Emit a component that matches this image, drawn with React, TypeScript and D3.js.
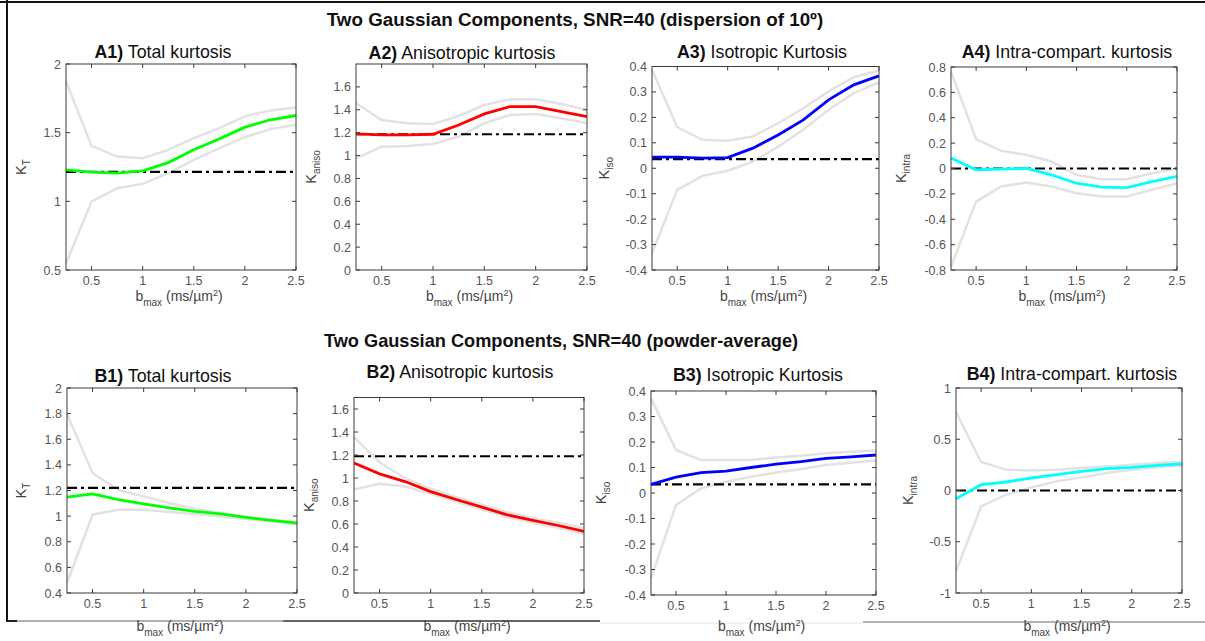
import React from "react";
import * as d3 from "d3";

// ---------- data ----------
const bVals = [0.25, 0.5, 0.75, 1.0, 1.25, 1.5, 1.75, 2.0, 2.25, 2.5];
const xTicks = [0.5, 1, 1.5, 2, 2.5];

// A1 Total kurtosis (dispersion)
const a1Mean = [1.229, 1.212, 1.205, 1.222, 1.282, 1.375, 1.455, 1.54, 1.594, 1.625];
const a1Upper = [1.873, 1.404, 1.326, 1.314, 1.375, 1.46, 1.533, 1.618, 1.662, 1.684];
const a1Lower = [0.548, 0.998, 1.095, 1.127, 1.205, 1.302, 1.387, 1.467, 1.526, 1.557];
const a1Ref = 1.215;
const a1Ticks = [0.5, 1, 1.5, 2];

// A2 Anisotropic kurtosis (dispersion)
const a2Mean = [1.19, 1.18, 1.18, 1.186, 1.267, 1.364, 1.428, 1.428, 1.384, 1.34];
const a2Upper = [1.457, 1.311, 1.282, 1.276, 1.346, 1.442, 1.492, 1.492, 1.451, 1.399];
const a2Lower = [0.976, 1.078, 1.084, 1.101, 1.166, 1.282, 1.355, 1.364, 1.326, 1.282];
const a2Ref = 1.186;
const a2Ticks = [0, 0.2, 0.4, 0.6, 0.8, 1, 1.2, 1.4, 1.6];

// A3 Isotropic kurtosis (dispersion)
const a3Mean = [0.0435, 0.044, 0.04, 0.042, 0.079, 0.131, 0.19, 0.269, 0.328, 0.363];
const a3Upper = [0.387, 0.162, 0.112, 0.108, 0.125, 0.177, 0.236, 0.302, 0.358, 0.384];
const a3Lower = [-0.334, -0.085, -0.03, -0.01, 0.026, 0.085, 0.151, 0.23, 0.295, 0.337];
const a3Ref = 0.036;
const a3Ticks = [-0.4, -0.3, -0.2, -0.1, 0, 0.1, 0.2, 0.3, 0.4];

// A4 Intra-compartmental kurtosis (dispersion)
const a4Mean = [0.082, -0.01, -0.005, 0.0, -0.05, -0.116, -0.147, -0.15, -0.103, -0.063];
const a4Upper = [0.765, 0.232, 0.139, 0.108, 0.055, -0.05, -0.084, -0.084, -0.037, 0.0];
const a4Lower = [-0.774, -0.261, -0.142, -0.111, -0.142, -0.195, -0.221, -0.221, -0.168, -0.116];
const a4Ref = 0.0;
const a4Ticks = [-0.8, -0.6, -0.4, -0.2, 0, 0.2, 0.4, 0.6, 0.8];

// B1 Total kurtosis (powder-average)
const b1Mean = [1.149, 1.173, 1.128, 1.095, 1.064, 1.037, 1.017, 0.99, 0.967, 0.946];
const b1Upper = [1.797, 1.337, 1.206, 1.154, 1.103, 1.058, 1.024, 0.998, 0.972, 0.954];
const b1Lower = [0.478, 1.011, 1.05, 1.05, 1.032, 1.017, 0.998, 0.978, 0.959, 0.939];
const b1Ref = 1.22;
const b1Ticks = [0.4, 0.6, 0.8, 1, 1.2, 1.4, 1.6, 1.8, 2];

// B2 Anisotropic kurtosis (powder-average)
const b2Mean = [1.131, 1.036, 0.969, 0.882, 0.813, 0.746, 0.68, 0.631, 0.587, 0.535];
const b2Upper = [1.354, 1.137, 0.998, 0.906, 0.833, 0.767, 0.703, 0.651, 0.611, 0.564];
const b2Lower = [0.9, 0.949, 0.926, 0.862, 0.796, 0.726, 0.66, 0.611, 0.567, 0.515];
const b2Ref = 1.189;
const b2Ticks = [0, 0.2, 0.4, 0.6, 0.8, 1, 1.2, 1.4, 1.6];

// B3 Isotropic kurtosis (powder-average)
const b3Mean = [0.034, 0.062, 0.08, 0.086, 0.1, 0.113, 0.123, 0.136, 0.142, 0.149];
const b3Upper = [0.371, 0.169, 0.129, 0.129, 0.129, 0.139, 0.146, 0.156, 0.162, 0.167];
const b3Lower = [-0.335, -0.047, 0.018, 0.044, 0.064, 0.08, 0.094, 0.11, 0.119, 0.127];
const b3Ref = 0.034;
const b3Ticks = [-0.4, -0.3, -0.2, -0.1, 0, 0.1, 0.2, 0.3, 0.4];

// B4 Intra-compartmental kurtosis (powder-average)
const b4Mean = [-0.08, 0.057, 0.083, 0.122, 0.154, 0.187, 0.213, 0.226, 0.245, 0.259];
const b4Upper = [0.766, 0.278, 0.203, 0.196, 0.203, 0.22, 0.235, 0.252, 0.268, 0.278];
const b4Lower = [-0.789, -0.155, -0.041, 0.03, 0.089, 0.128, 0.171, 0.203, 0.226, 0.245];
const b4Ref = 0.0;
const b4Ticks = [-1, -0.5, 0, 0.5, 1];

const rowTitles = [
  "Two Gaussian Components, SNR=40 (dispersion of 10º)",
  "Two Gaussian Components, SNR=40 (powder-average)",
];

// ---------- layout ----------
type Panel = {
  tag: string; title: string; sub: string;
  x0: number; x1: number; y0: number; y1: number;
  yDomain: [number, number]; yTicks: number[];
  mean: number[]; upper: number[]; lower: number[]; ref: number;
  color: string; titleX: number; titleY: number; ylabX: number; xlabY: number;
};

const panels: Panel[] = [
  { tag: "A1)", title: " Total kurtosis", sub: "T", x0: 66, x1: 296, y0: 64, y1: 270, yDomain: [0.5, 2], yTicks: a1Ticks, mean: a1Mean, upper: a1Upper, lower: a1Lower, ref: a1Ref, color: "#00ff00", titleX: 163, titleY: 58, ylabX: 26, xlabY: 301 },
  { tag: "A2)", title: " Anisotropic kurtosis", sub: "aniso", x0: 356, x1: 587, y0: 64, y1: 270, yDomain: [0, 1.8], yTicks: a2Ticks, mean: a2Mean, upper: a2Upper, lower: a2Lower, ref: a2Ref, color: "#ff0000", titleX: 462, titleY: 59, ylabX: 316, xlabY: 301 },
  { tag: "A3)", title: " Isotropic Kurtosis", sub: "iso", x0: 652, x1: 879, y0: 66.5, y1: 270, yDomain: [-0.4, 0.4], yTicks: a3Ticks, mean: a3Mean, upper: a3Upper, lower: a3Lower, ref: a3Ref, color: "#0000ff", titleX: 762, titleY: 58, ylabX: 609, xlabY: 301 },
  { tag: "A4)", title: " Intra-compart. kurtosis", sub: "intra", x0: 951, x1: 1177, y0: 67, y1: 270, yDomain: [-0.8, 0.8], yTicks: a4Ticks, mean: a4Mean, upper: a4Upper, lower: a4Lower, ref: a4Ref, color: "#00ffff", titleX: 1067, titleY: 58, ylabX: 906, xlabY: 301 },
  { tag: "B1)", title: " Total kurtosis", sub: "T", x0: 67, x1: 297, y0: 388, y1: 593, yDomain: [0.4, 2], yTicks: b1Ticks, mean: b1Mean, upper: b1Upper, lower: b1Lower, ref: b1Ref, color: "#00ff00", titleX: 163, titleY: 382, ylabX: 26, xlabY: 631 },
  { tag: "B2)", title: " Anisotropic kurtosis", sub: "aniso", x0: 354, x1: 584, y0: 397.5, y1: 593, yDomain: [0, 1.7], yTicks: b2Ticks, mean: b2Mean, upper: b2Upper, lower: b2Lower, ref: b2Ref, color: "#ff0000", titleX: 460, titleY: 378, ylabX: 314, xlabY: 631 },
  { tag: "B3)", title: " Isotropic Kurtosis", sub: "iso", x0: 651, x1: 876, y0: 391, y1: 595, yDomain: [-0.4, 0.4], yTicks: b3Ticks, mean: b3Mean, upper: b3Upper, lower: b3Lower, ref: b3Ref, color: "#0000ff", titleX: 758, titleY: 381, ylabX: 606, xlabY: 631 },
  { tag: "B4)", title: " Intra-compart. kurtosis", sub: "intra", x0: 956, x1: 1182, y0: 388, y1: 593, yDomain: [-1, 1], yTicks: b4Ticks, mean: b4Mean, upper: b4Upper, lower: b4Lower, ref: b4Ref, color: "#00ffff", titleX: 1072, titleY: 380, ylabX: 913, xlabY: 631 },
];

const FONT = "'Liberation Sans', Arial, Helvetica, sans-serif";
const fmt = (v: number) => String(+v.toFixed(2));

function PanelView({ p }: { p: Panel }) {
  const x = d3.scaleLinear().domain([0.25, 2.5]).range([p.x0, p.x1]);
  const y = d3.scaleLinear().domain(p.yDomain).range([p.y1, p.y0]);
  const line = d3.line<number>().x((_, i) => x(bVals[i])).y((d) => y(d));
  const tl = 4;
  const axisCol = "#3a3a3a";
  const labCol = "#555";
  const cx = (p.x0 + p.x1) / 2;
  const cy = (p.y0 + p.y1) / 2;
  return (
    <g>
      {/* title */}
      <text x={p.titleX} y={p.titleY} textAnchor="middle" fontSize={17.8} fill="#111" fontFamily={FONT}>
        <tspan fontWeight="bold">{p.tag}</tspan>
        <tspan>{p.title}</tspan>
      </text>
      {/* gray bounds */}
      <path d={line(p.upper) || ""} fill="none" stroke="#e2e2e2" strokeWidth={2.5} />
      <path d={line(p.lower) || ""} fill="none" stroke="#e2e2e2" strokeWidth={2.5} />
      {/* reference */}
      <line x1={p.x0} x2={p.x1} y1={y(p.ref)} y2={y(p.ref)} stroke="#000" strokeWidth={2.2} strokeDasharray="10,4,3,4" />
      {/* mean */}
      <path d={line(p.mean) || ""} fill="none" stroke={p.color} strokeWidth={2.8} />
      {/* box */}
      <rect x={p.x0} y={p.y0} width={p.x1 - p.x0} height={p.y1 - p.y0} fill="none" stroke={axisCol} strokeWidth={1} />
      {/* x ticks */}
      {xTicks.map((t) => (
        <g key={"x" + t}>
          <line x1={x(t)} x2={x(t)} y1={p.y1} y2={p.y1 - tl} stroke={axisCol} />
          <line x1={x(t)} x2={x(t)} y1={p.y0} y2={p.y0 + tl} stroke={axisCol} />
          <text x={x(t)} y={p.y1 + 15} textAnchor="middle" fontSize={12.5} fill={labCol} fontFamily={FONT}>{fmt(t)}</text>
        </g>
      ))}
      {/* y ticks */}
      {p.yTicks.map((t) => (
        <g key={"y" + t}>
          <line x1={p.x0} x2={p.x0 + tl} y1={y(t)} y2={y(t)} stroke={axisCol} />
          <line x1={p.x1} x2={p.x1 - tl} y1={y(t)} y2={y(t)} stroke={axisCol} />
          <text x={p.x0 - 5} y={y(t) + 4.5} textAnchor="end" fontSize={12.5} fill={labCol} fontFamily={FONT}>{fmt(t)}</text>
        </g>
      ))}
      {/* y label */}
      <text transform={`translate(${p.ylabX},${cy}) rotate(-90)`} textAnchor="middle" fontSize={14.5} fill="#444" fontFamily={FONT}>
        K<tspan fontSize={10} dy={4}>{p.sub}</tspan>
      </text>
      {/* x label */}
      <text x={cx - 2} y={p.xlabY} textAnchor="middle" fontSize={14} fill="#444" fontFamily={FONT}>
        b<tspan fontSize={10} dy={5}>max</tspan>
        <tspan dy={-5}>{"  (ms/µm"}</tspan>
        <tspan fontSize={9} dy={-5}>2</tspan>
        <tspan dy={5}>)</tspan>
      </text>
    </g>
  );
}

export default function App() {
  return (
    <div style={{ position: "absolute", left: 0, top: 0 }}>
      <svg width={1205} height={641} style={{ display: "block", background: "#fff" }}>
        {/* frame fragments */}
        <line x1={0} x2={1205} y1={2} y2={2} stroke="#111" strokeWidth={2} />
        <line x1={7} x2={7} y1={0} y2={622} stroke="#111" strokeWidth={2} />
        <line x1={7} x2={17} y1={621} y2={621} stroke="#222" strokeWidth={2} />
        <line x1={17} x2={283} y1={621} y2={621} stroke="#b0b0b0" strokeWidth={2} />
        <line x1={283} x2={600} y1={621} y2={621} stroke="#333" strokeWidth={1.5} />
        <line x1={600} x2={863} y1={623} y2={623} stroke="#ececec" strokeWidth={1.5} />
        <line x1={863} x2={1205} y1={622} y2={622} stroke="#9a9a9a" strokeWidth={1.5} />
        {/* row titles */}
        <text x={575} y={26} textAnchor="middle" fontSize={18.8} fontWeight="bold" fill="#111" fontFamily={FONT}>{rowTitles[0]}</text>
        <text x={561} y={347} textAnchor="middle" fontSize={18.2} fontWeight="bold" fill="#111" fontFamily={FONT}>{rowTitles[1]}</text>
        {panels.map((p) => (
          <PanelView key={p.tag} p={p} />
        ))}
      </svg>
    </div>
  );
}
